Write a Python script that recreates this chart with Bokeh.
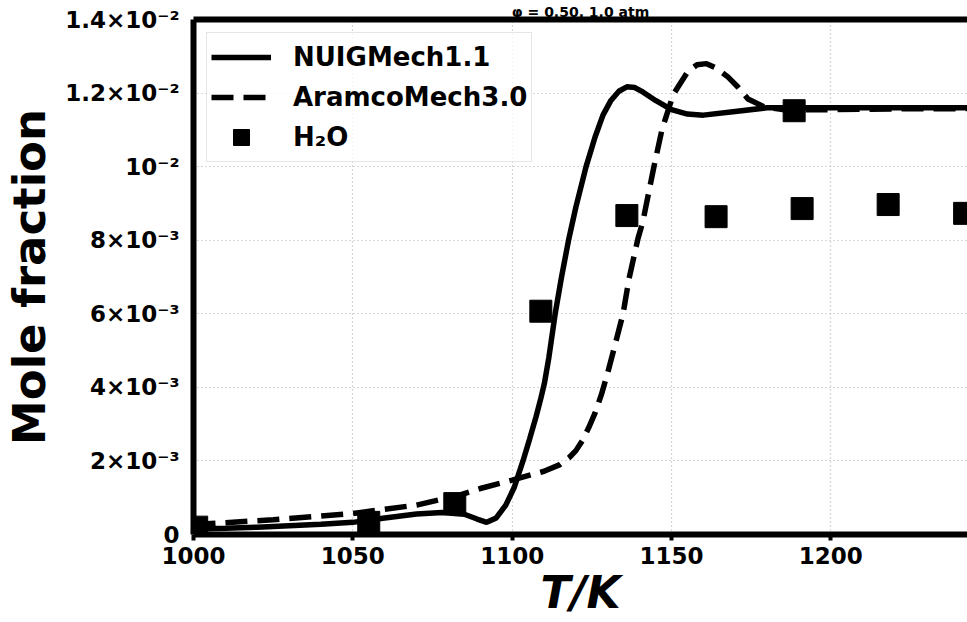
from bokeh.plotting import figure
from bokeh.models import (FixedTicker, LinearAxis, Range1d, Legend, LegendItem)
from bokeh.embed import file_html
from bokeh.resources import INLINE

# ---- data ----
nuig_T = [1000, 1010, 1020, 1030, 1040, 1050, 1060, 1070, 1078, 1085, 1089, 1092,
          1095, 1098, 1100.6, 1103.4, 1105.5, 1107.5, 1109, 1110.1, 1111.5, 1113.5,
          1115.5, 1117.7, 1120, 1123.2, 1126, 1128.5, 1131, 1133.5, 1136, 1138.5,
          1141, 1145, 1150, 1155, 1160, 1170, 1180, 1200, 1220, 1250]
nuig_X = [0.00015, 0.00017, 0.00020, 0.00024, 0.00028, 0.00033, 0.00045, 0.00056,
          0.00060, 0.00055, 0.00042, 0.00033, 0.00045, 0.00080, 0.00127, 0.00200,
          0.00260, 0.00320, 0.00370, 0.00410, 0.00480, 0.00600, 0.00700, 0.00800,
          0.00890, 0.01000, 0.01080, 0.01140, 0.01180, 0.01205, 0.01217, 0.01215,
          0.01203, 0.01180, 0.01155, 0.01143, 0.01140, 0.01150, 0.01160, 0.01160,
          0.01160, 0.01160]

aramco_T = [1000, 1025, 1050, 1070, 1083, 1090, 1100, 1110, 1115, 1118, 1120,
            1122, 1124, 1126, 1128, 1130, 1132.6, 1134.8, 1136.7, 1139.5, 1141,
            1144.5, 1147, 1150.5, 1155, 1158, 1161, 1164, 1167.7, 1171, 1174, 1179,
            1185, 1200, 1220, 1250]
aramco_X = [0.00027, 0.00040, 0.00057, 0.00080, 0.00106, 0.00125, 0.00148, 0.00172,
            0.00190, 0.00210, 0.00228, 0.00255, 0.00290, 0.00330, 0.00380, 0.00440,
            0.00526, 0.00600, 0.00696, 0.00805, 0.00850, 0.01000, 0.01100, 0.01195,
            0.01257, 0.01277, 0.01280, 0.01268, 0.01244, 0.01215, 0.01184, 0.01163,
            0.01155, 0.01155, 0.01157, 0.01158]

h2o_T = [1001, 1055, 1082, 1109, 1136, 1164, 1188.5, 1191, 1218, 1242]
h2o_X = [0.00020, 0.00033, 0.00084, 0.00607, 0.00867, 0.00864, 0.01152, 0.00886,
         0.00897, 0.00873]

y_ticks = [0, 0.002, 0.004, 0.006, 0.008, 0.010, 0.012, 0.014]
y_tick_labels = ["0", "2×10⁻³", "4×10⁻³", "6×10⁻³", "8×10⁻³", "10⁻²",
                 "1.2×10⁻²", "1.4×10⁻²"]
x_ticks = [1000, 1050, 1100, 1150, 1200]
title_text = "φ = 0.50, 1.0 atm"

FONT = "DejaVu Sans"

p = figure(width=967, height=622, output_backend="svg", toolbar_location=None,
           x_range=Range1d(1000, 1242.9), y_range=Range1d(0, 0.014),
           min_border_left=192, min_border_top=18, min_border_bottom=88,
           min_border_right=0)
p.outline_line_alpha = 0
p.background_fill_color = "white"
p.border_fill_color = "white"

# grid
for g in (p.xgrid, p.ygrid):
    g.grid_line_color = "#b0b0b0"
    g.grid_line_dash = "1 3"
    g.grid_line_width = 1.2
p.xgrid.ticker = FixedTicker(ticks=x_ticks)
p.ygrid.ticker = FixedTicker(ticks=y_ticks)

# axes
xa = p.xaxis[0]
xa.ticker = FixedTicker(ticks=x_ticks)
xa.axis_label = "T/K"
xa.axis_label_text_font = FONT
xa.axis_label_text_font_style = "bold italic"
xa.axis_label_text_font_size = "44px"
xa.axis_label_text_color = "black"
xa.axis_label_standoff = 0
xa.major_label_text_font = FONT
xa.major_label_text_font_style = "bold"
xa.major_label_text_font_size = "23px"
xa.major_label_text_color = "black"
xa.major_label_standoff = 6
xa.axis_line_width = 6
xa.axis_line_color = "black"
xa.major_tick_line_width = 4
xa.major_tick_out = 6
xa.major_tick_in = 0
xa.minor_tick_line_alpha = 0

ya = p.yaxis[0]
ya.ticker = FixedTicker(ticks=y_ticks)
ya.major_label_overrides = {t: l for t, l in zip(y_ticks, y_tick_labels)}
ya.axis_label = "Mole fraction"
ya.axis_label_text_font = FONT
ya.axis_label_text_font_style = "bold"
ya.axis_label_text_font_size = "45px"
ya.axis_label_text_color = "black"
ya.axis_label_standoff = 6
ya.major_label_text_font = FONT
ya.major_label_text_font_style = "bold"
ya.major_label_text_font_size = "23px"
ya.major_label_text_color = "black"
ya.major_label_standoff = 14
ya.axis_line_width = 6
ya.axis_line_color = "black"
ya.major_tick_line_alpha = 0
ya.major_tick_out = 0
ya.major_tick_in = 0
ya.minor_tick_line_alpha = 0

# top border line; carries the (in the reference, cut-off) title as its label
top = LinearAxis(ticker=FixedTicker(ticks=[]), axis_line_width=6,
                 axis_line_color="black", major_label_text_alpha=0,
                 major_tick_line_alpha=0, minor_tick_line_alpha=0,
                 major_tick_in=0, major_tick_out=0,
                 major_label_text_font_size="1px", major_label_standoff=0,
                 axis_label=title_text, axis_label_text_font=FONT,
                 axis_label_text_font_style="bold", axis_label_text_font_size="14px",
                 axis_label_text_color="black", axis_label_standoff=0)
p.add_layout(top, "above")

r1 = p.line(nuig_T, nuig_X, line_color="black", line_width=5.5)
r2 = p.line(aramco_T, aramco_X, line_color="black", line_width=5.5, line_dash="22 10")
r3 = p.scatter(h2o_T, h2o_X, marker="square", size=22, fill_color="black",
               line_color="black")

legend = Legend(items=[LegendItem(label="NUIGMech1.1", renderers=[r1]),
                       LegendItem(label="AramcoMech3.0", renderers=[r2]),
                       LegendItem(label="H₂O", renderers=[r3])],
                location="top_left")
legend.label_text_font = FONT
legend.label_text_font_style = "bold"
legend.label_text_font_size = "26px"
legend.label_text_color = "black"
legend.glyph_width = 60
legend.glyph_height = 40
legend.label_standoff = 22
legend.spacing = 0
legend.padding = 4
legend.margin = 13
legend.border_line_color = "#cccccc"
legend.border_line_width = 1.5
legend.background_fill_alpha = 0.8
p.add_layout(legend)

open("out.html", "w").write(file_html(p, INLINE))
